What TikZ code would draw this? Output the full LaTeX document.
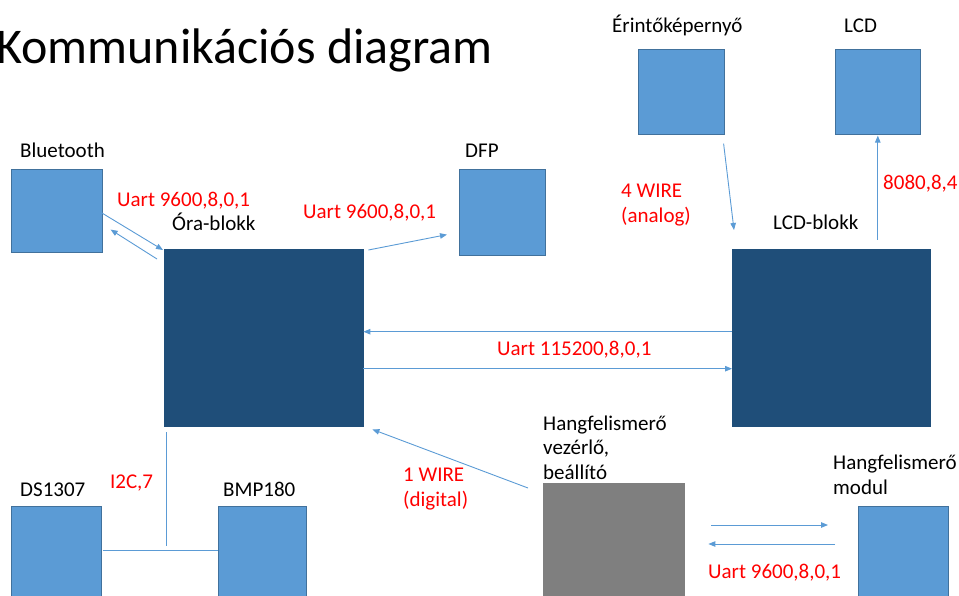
\documentclass[tikz,border=0pt]{standalone}
\usepackage{fontspec}
\setmainfont{Carlito}
\usetikzlibrary{arrows.meta}
\definecolor{lightblue}{HTML}{5B9BD5}
\definecolor{edgeblue}{HTML}{41719C}
\definecolor{navy}{HTML}{1F4E79}
\definecolor{midgray}{HTML}{7F7F7F}
\tikzset{
    smallbox/.style={draw=edgeblue,fill=lightblue,line width=0.6pt,anchor=north west,inner sep=0pt},
    bigbox/.style={draw=navy,fill=navy,anchor=north west,inner sep=0pt,minimum width=199pt,minimum height=177pt},
    graybox/.style={draw=midgray,fill=midgray,anchor=north west,inner sep=0pt},
    lbl/.style={anchor=base west,inner sep=0pt,align=left,font=\fontsize{21}{24.5}\selectfont},
    redlbl/.style={lbl,text=red},
    link/.style={draw=lightblue,line width=0.9pt}
}
\begin{document}
\begin{tikzpicture}[x=1pt,y=-1pt,>={Triangle[length=7pt,width=5.5pt]}]
    \useasboundingbox (0,0) rectangle (959,595);
    \node [lbl,font=\fontsize{50}{56}\selectfont] (title) at (-4,63) {Kommunikációs diagram};

    \node [smallbox,minimum width=91pt,minimum height=83pt] (bt) at (11,169) {};
    \node [bigbox] (ora) at (164,249) {};
    \node [smallbox,minimum width=86pt,minimum height=86pt] (dfp) at (459,169) {};
    \node [smallbox,minimum width=86pt,minimum height=85pt] (erint) at (638,49) {};
    \node [smallbox,minimum width=85pt,minimum height=85pt] (lcd) at (835,49) {};
    \node [bigbox,minimum width=198pt] (lcdb) at (732,249) {};
    \node [graybox,minimum width=141pt,minimum height=120pt] (hang) at (543,483) {};
    \node [smallbox,minimum width=90pt,minimum height=96pt] (modul) at (858,506) {};
    \node [smallbox,minimum width=90pt,minimum height=96pt] (ds) at (11,506) {};
    \node [smallbox,minimum width=88pt,minimum height=96pt] (bmp) at (218,506) {};

    \node [lbl] (btlbl) at (20,157) {Bluetooth};
    \node [lbl] (oralbl) at (172,230) {Óra-blokk};
    \node [lbl] (dfplbl) at (465,157) {DFP};
    \node [lbl] (erintlbl) at (612,32) {Érintőképernyő};
    \node [lbl] (lcdlbl) at (844,32) {LCD};
    \node [lbl] (lcdblbl) at (773,229) {LCD-blokk};
    \node [lbl] (hanglbl) at (543,479) {Hangfelismerő\\vezérlő,\\beállító};
    \node [lbl] (modullbl) at (833,494) {Hangfelismerő\\modul};
    \node [lbl] (dslbl) at (20,496) {DS1307};
    \node [lbl] (bmplbl) at (223,496) {BMP180};

    \node [redlbl] (btuart) at (117,206) {Uart 9600,8,0,1};
    \node [redlbl] (dfpuart) at (303,218) {Uart 9600,8,0,1};
    \node [redlbl] (wire4) at (621,222) {4 WIRE\\(analog)};
    \node [redlbl] (par8080) at (883,189) {8080,8,4};
    \node [redlbl] (mainuart) at (497,355) {Uart 115200,8,0,1};
    \node [redlbl] (wire1) at (403,506) {1 WIRE\\(digital)};
    \node [redlbl] (i2c) at (110,488) {I2C,7};
    \node [redlbl] (moduart) at (708,578) {Uart 9600,8,0,1};

    \draw [link,->] ([shift={(-1,2)}]bt.east) -- ([shift={(-1,1)}]ora.north west);
    \draw [link,->] ([shift={(-7,10)}]ora.north west) -- ([shift={(8,-23)}]bt.south east);
    \draw [link,->] ([shift={(5,1)}]ora.north east) -- ([shift={(-12,-21)}]dfp.south west);
    \draw [link,->] ([shift={(-1,9)}]erint.south east) -- ([shift={(2,-19)}]lcdb.north west);
    \draw [link,->] ([shift={(0,105)}]lcd.south) -- ([shift={(0,1)}]lcd.south);
    \draw [link,->] ([shift={(0,-6)}]lcdb.west) -- ([shift={(0,-6)}]ora.east);
    \draw [link,->] ([shift={(0,31)}]ora.east) -- ([shift={(0,31)}]lcdb.west);
    \draw [link,->] ([shift={(-15,5)}]hang.north west) -- ([shift={(9,3)}]ora.south east);
    \draw [link,->] ([shift={(27,42)}]hang.north east) -- ([shift={(-30,19)}]modul.north west);
    \draw [link,->] ([shift={(-23,38)}]modul.north west) -- ([shift={(24,61)}]hang.north east);
    \draw [link] ([shift={(2,6)}]ora.south west) -- ([shift={(2,120)}]ora.south west);
    \draw [link] ([shift={(1,44)}]ds.north east) -- ([shift={(0,44)}]bmp.north west);
\end{tikzpicture}
\end{document}
